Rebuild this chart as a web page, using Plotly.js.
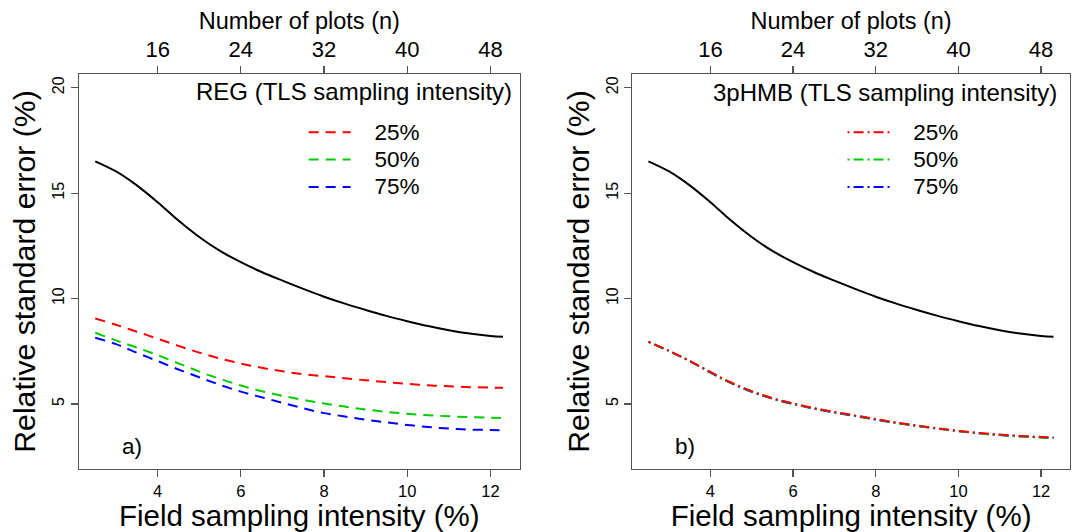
<!DOCTYPE html>
<html><head><meta charset="utf-8">
<script src="https://cdn.plot.ly/plotly-3.0.1.min.js"></script>
<style>body{margin:0;background:#fff}#chart{width:1072px;height:532px}</style>
</head><body><div id="chart"></div>
<script>
// Field sampling intensity (%) grid
const fieldIntensity = [2.5,3,3.5,4,4.5,5,5.5,6,6.5,7,7.5,8,8.5,9,9.5,10,10.5,11,11.5,12,12.3];
// Field-only relative standard error (%) (black solid)
const fieldOnly = [16.51,16.03,15.37,14.57,13.70,12.92,12.26,11.73,11.26,10.85,10.46,10.09,9.76,9.46,9.18,8.93,8.70,8.50,8.34,8.23,8.19];
// REG estimator
const reg25 = [9.06,8.76,8.43,8.10,7.76,7.44,7.16,6.92,6.72,6.55,6.42,6.32,6.22,6.13,6.04,5.96,5.89,5.84,5.80,5.78,5.77];
const reg50 = [8.38,8.02,7.68,7.32,6.93,6.54,6.19,5.88,5.61,5.39,5.20,5.03,4.88,4.74,4.63,4.54,4.47,4.42,4.38,4.35,4.34];
const reg75 = [8.14,7.84,7.43,7.04,6.64,6.27,5.91,5.59,5.32,5.06,4.80,4.57,4.41,4.26,4.13,4.01,3.91,3.84,3.79,3.77,3.76];
// 3pHMB estimator
const hmb25 = [7.95,7.52,7.05,6.52,6.02,5.61,5.28,5.03,4.81,4.63,4.46,4.29,4.12,3.98,3.85,3.73,3.63,3.55,3.49,3.44,3.42];
const hmb50 = [7.95,7.52,7.04,6.51,6.01,5.60,5.27,5.02,4.80,4.62,4.45,4.28,4.11,3.97,3.84,3.72,3.61,3.53,3.46,3.41,3.39];
const hmb75 = [7.95,7.51,7.03,6.49,5.99,5.58,5.25,5.00,4.78,4.60,4.43,4.26,4.10,3.96,3.83,3.71,3.61,3.53,3.47,3.42,3.40];

const seriesNames = ['25%','50%','75%'];
const bottomTickVals = [4,6,8,10,12];
const topTickLabels = ['16','24','32','40','48'];
const yTickVals = [5,10,15,20];

const FONT = 'Liberation Sans, Arial, sans-serif';
const colors = ['#FF0000','#00CD00','#0000FF'];
const regSeries = [reg25, reg50, reg75];
const hmbSeries = [hmb25, hmb50, hmb75];
const regDash = '10px,7px';
const hmbDash = '2px,4px,10px,4px';
const legendLabel = s => '<span style="font-size:22.5px">\u00a0\u00a0\u00a0' + s + '</span>';

const traces = [];
traces.push({x: fieldIntensity, y: fieldOnly, xaxis:'x', yaxis:'y', mode:'lines',
  line:{color:'#000', width:2, shape:'spline'}, showlegend:false, hoverinfo:'skip'});
regSeries.forEach((s,i)=>traces.push({x: fieldIntensity, y: s, xaxis:'x', yaxis:'y', mode:'lines',
  name: legendLabel(seriesNames[i]), legend:'legend', legendrank: i+1,
  line:{color:colors[i], width:2, dash:regDash, shape:'spline'}}));
traces.push({x: fieldIntensity, y: fieldOnly, xaxis:'x2', yaxis:'y2', mode:'lines',
  line:{color:'#000', width:2, shape:'spline'}, showlegend:false, hoverinfo:'skip'});
[2,1,0].forEach(i=>traces.push({x: fieldIntensity, y: hmbSeries[i], xaxis:'x2', yaxis:'y2', mode:'lines',
  name: legendLabel(seriesNames[i]), legend:'legend2', legendrank: i+1,
  line:{color:colors[i], width:2, dash:hmbDash, shape:'spline'}}));
// carriers for the top "Number of plots" axes (invisible)
['x3','x4'].forEach((ax,k)=>traces.push({x: fieldIntensity, y: fieldOnly, xaxis:ax, yaxis: k? 'y2':'y',
  mode:'lines', opacity:0, line:{width:0}, showlegend:false, hoverinfo:'skip'}));

const W = 1072, H = 532;
const mL = 79.3, mR = 1.5, mT = 73.5, mB = 63;
const pw = W - mL - mR, ph = H - mT - mB;
const px = v => (v - mL) / pw;
const py = v => (H - mB - v) / ph;

const xRange = [2.11, 12.70];
const yRange = [1.92, 20.65];
const axisCol = '#555';

function xBottom(domain, anchor){
  return {domain, anchor, range:xRange, showgrid:false, zeroline:false,
    showline:true, linecolor:axisCol, linewidth:1.2, mirror:true,
    ticks:'outside', ticklen:7, tickcolor:axisCol, tickwidth:1.2,
    tickvals: bottomTickVals, tickfont:{family:FONT, size:16.5, color:'#000'},
    title:{text:'Field sampling intensity (%)', font:{family:FONT, size:29.5, color:'#000'}, standoff:6}};
}
function xTop(overlay){
  return {overlaying:overlay, side:'top', range:xRange, showgrid:false, zeroline:false,
    showline:false, ticks:'outside', ticklen:7, tickcolor:axisCol, tickwidth:1.2,
    tickvals: bottomTickVals, ticktext: topTickLabels, tickfont:{family:FONT, size:22, color:'#000'},
    title:{text:'Number of plots (n)', font:{family:FONT, size:23.5, color:'#000'}, standoff:0}};
}
function yAx(anchor){
  return {anchor, range:yRange, showgrid:false, zeroline:false,
    showline:true, linecolor:axisCol, linewidth:1.2, mirror:true,
    ticks:'outside', ticklen:7, tickcolor:axisCol, tickwidth:1.2,
    tickvals: yTickVals, tickangle:-90, tickfont:{family:FONT, size:16, color:'#000'},
    title:{text:'Relative standard error (%)', font:{family:FONT, size:30.2, color:'#000'}, standoff:5}};
}

const legendCommon = {bgcolor:'rgba(0,0,0,0)', borderwidth:0, font:{family:FONT, size:18.8, color:'#000'},
  xanchor:'left', yanchor:'top', tracegroupgap:0, itemwidth:42, traceorder:'normal'};

const layout = {
  width:W, height:H, paper_bgcolor:'#fff', plot_bgcolor:'#fff',
  margin:{l:mL, r:mR, t:mT, b:mB, pad:0},
  font:{family:FONT, color:'#000'},
  xaxis: xBottom([0, px(520)], 'y'),
  yaxis: yAx('x'),
  xaxis2: xBottom([px(632.7), 1], 'y2'),
  yaxis2: yAx('x2'),
  xaxis3: xTop('x'),
  xaxis4: xTop('x2'),
  legend: Object.assign({}, legendCommon, {x: px(304), y: py(113)}),
  legend2: Object.assign({}, legendCommon, {x: px(843), y: py(113)}),
  annotations: [
    {xref:'paper', yref:'paper', x:px(514), y:py(91), xanchor:'right', yanchor:'middle', showarrow:false,
     text:'REG (TLS sampling intensity)', font:{family:FONT, size:24, color:'#000'}},
    {xref:'paper', yref:'paper', x:px(1059), y:py(92), xanchor:'right', yanchor:'middle', showarrow:false,
     text:'3pHMB (TLS sampling intensity)', font:{family:FONT, size:24, color:'#000'}},
    {xref:'x', yref:'y', x:3.38, y:2.97, showarrow:false, text:'a)', font:{family:FONT, size:22.5, color:'#000'}},
    {xref:'x2', yref:'y2', x:3.38, y:2.97, showarrow:false, text:'b)', font:{family:FONT, size:22.5, color:'#000'}}
  ],
  showlegend:true
};

Plotly.newPlot('chart', traces, layout, {staticPlot:true, displayModeBar:false});
</script>
</body></html>
